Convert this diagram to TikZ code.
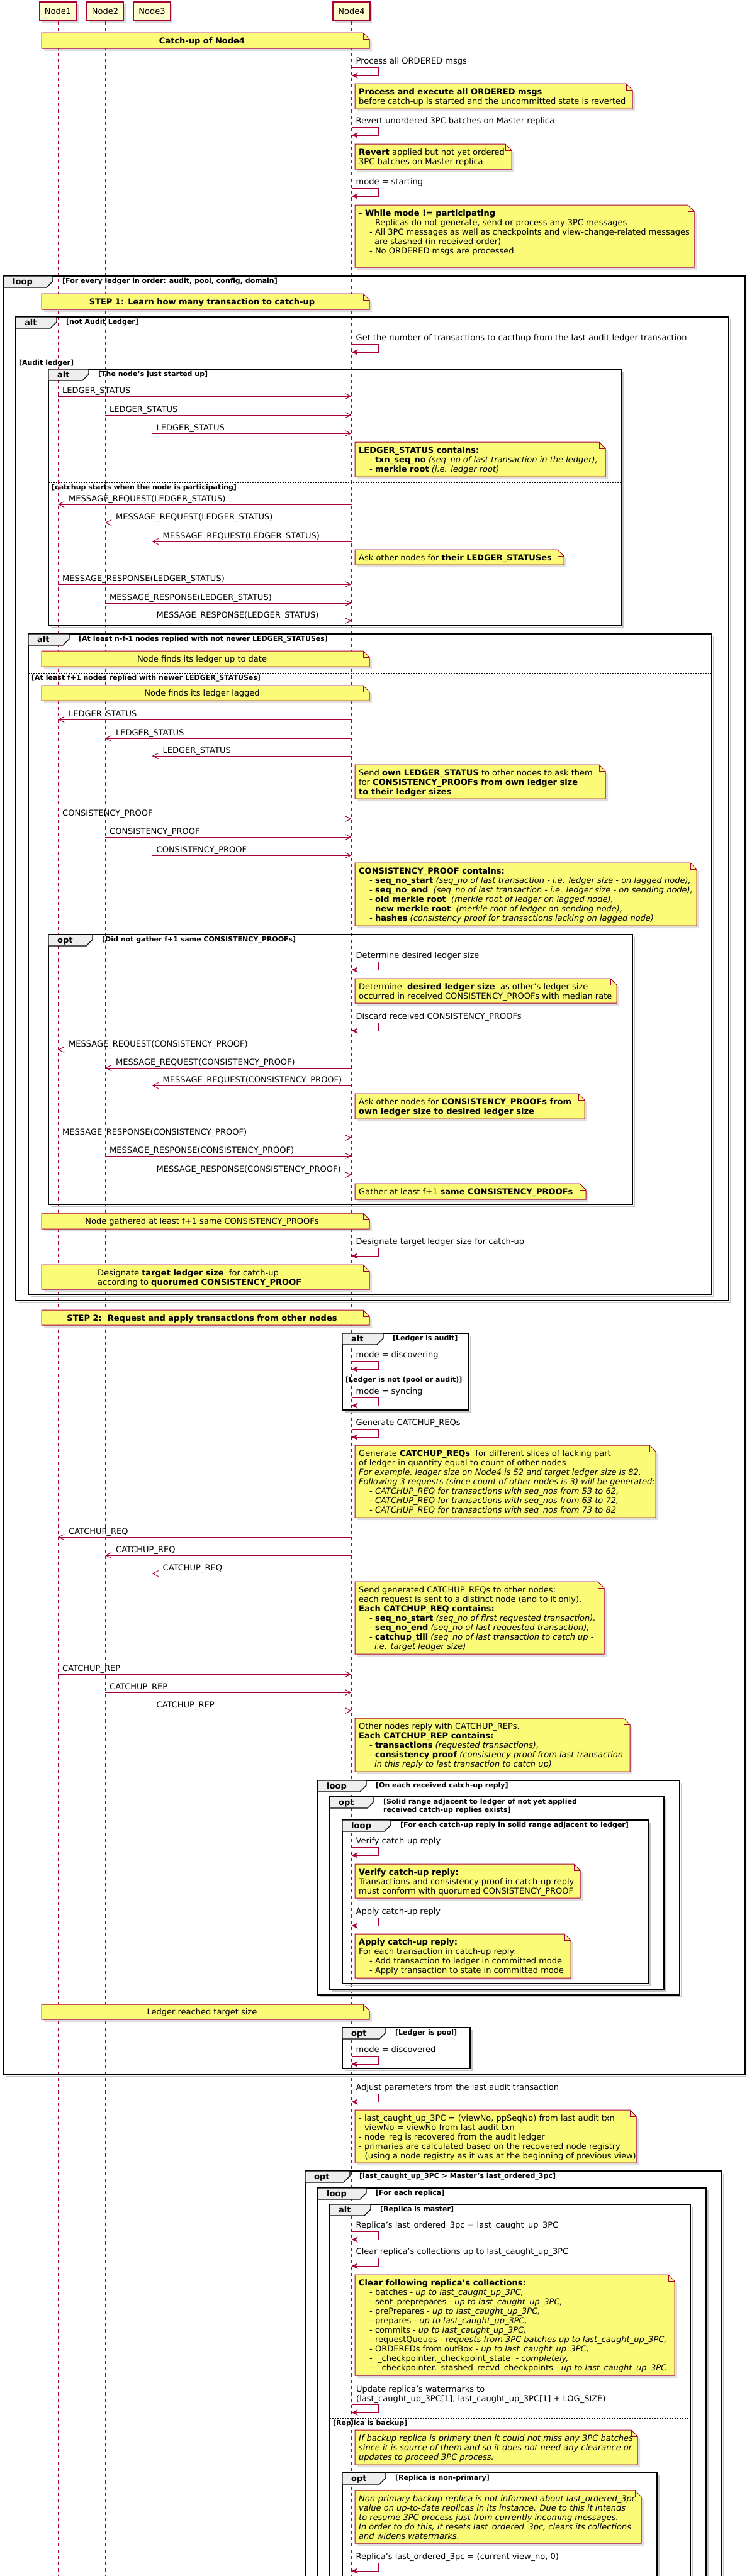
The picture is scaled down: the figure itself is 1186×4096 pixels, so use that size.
\documentclass[tikz,border=0pt]{standalone}
\usepackage{fontspec}
\setmainfont{DejaVu Sans}
\usetikzlibrary{arrows.meta, shadows}

\definecolor{umlred}{HTML}{A80036}
\definecolor{partyellow}{HTML}{FEFECE}
\definecolor{noteyellow}{HTML}{FBFB77}
\definecolor{tabgray}{HTML}{EEEEEE}

\newcommand{\selfmsg}[3]{%
  \node[txt, anchor=base west, xshift=7pt, yshift=5.5pt] (#1) at (n4 |- 0,#2) {#3};
  \draw[selfarr] (n4 |- 0,#2) -- ++(43,0) -- ++(0,13) -- ++(-43,0);}
\newcommand{\msgin}[4]{%
  \draw[msgarr] (#2 |- 0,#3) -- (n4 |- 0,#3);
  \node[txt, anchor=base west, xshift=7pt, yshift=4.5pt] (#1) at (#2 |- 0,#3) {#4};}
\newcommand{\msgout}[4]{%
  \draw[msgarr] (n4 |- 0,#3) -- (#2 |- 0,#3);
  \node[txt, anchor=base west, xshift=17pt, yshift=4.5pt] (#1) at (#2 |- 0,#3) {#4};}
\newcommand{\stickynote}[4]{%
  \filldraw[notebox] (#1,#2) -- (#3-10,#2) -- (#3,#2+10) -- (#3,#4) -- (#1,#4) -- cycle;
  \draw[umlred, line width=1pt] (#3-10,#2) -- (#3-10,#2+10) -- (#3,#2+10);}
\newcommand{\grp}[8]{%
  \draw[black!22, line width=2pt] (#2+4,#5+3) -- (#4+3,#5+3) -- (#4+3,#3+4);
  \draw[frm] (#2,#3) rectangle (#4,#5);
  \filldraw[frmtab] (#2,#3) -- (#2+#6,#3) -- (#2+#6,#3+8) -- (#2+#6-10,#3+18) -- (#2,#3+18) -- cycle;
  \node[frmkey] (#1k) at (#2+14,#3+13) {#7};
  \node[frmlbl] (#1l) at (#2+#6+15,#3+2.4) {\strut #8};}
\newcommand{\elsesplit}[5]{%
  \draw[elsesep] (#2,#4) -- (#3,#4);
  \node[frmlbl] (#1) at (#2+5,#4+1.9) {\strut #5};}

\begin{document}
\begin{tikzpicture}[x=1pt, y=-1pt,
  part/.style={draw=umlred, fill=partyellow, line width=1.2pt, minimum width=59pt,
               minimum height=30pt, inner sep=0pt, font=\fontsize{13}{15}\selectfont,
               drop shadow={shadow xshift=3pt, shadow yshift=-3pt, opacity=0.3}},
  life/.style={umlred, line width=0.8pt, dash pattern=on 5pt off 5pt},
  msgarr/.style={umlred, line width=1pt, -{Straight Barb[length=9pt, width=9pt]}},
  selfarr/.style={umlred, line width=1pt, -{Stealth[length=10pt, width=9pt, inset=3pt]}},
  txt/.style={font=\fontsize{13}{15}\selectfont, inner sep=0pt},
  ntxt/.style={txt, anchor=north west, align=left},
  ctxt/.style={txt, anchor=base},
  notebox/.style={draw=umlred, fill=noteyellow, line width=1pt,
                  drop shadow={shadow xshift=4pt, shadow yshift=-4pt, opacity=0.25}},
  frm/.style={black, line width=1.5pt},
  frmtab/.style={draw=black, fill=tabgray, line width=1.2pt},
  frmkey/.style={font=\fontsize{13}{15}\selectfont\bfseries, inner sep=0pt, anchor=base west},
  frmlbl/.style={font=\fontsize{11}{13}\selectfont\bfseries, inner sep=0pt, anchor=north west, align=left},
  elsesep/.style={black, line width=0.8pt, dash pattern=on 2pt off 2pt}
]
  \useasboundingbox (0,0) rectangle (1186,4096);
  \fill[white] (0,0) rectangle (1186,4096);
  \clip (0,0) rectangle (1186,4096);

  \node[part] (n1) at (92,18) {Node1};
  \node[part] (n2) at (167,18) {Node2};
  \node[part] (n3) at (241.5,18) {Node3};
  \node[part] (n4) at (558.5,18) {Node4};

  \draw[life] (n1.south) -- (n1 |- 0,4096);
  \draw[life] (n2.south) -- (n2 |- 0,4096);
  \draw[life] (n3.south) -- (n3 |- 0,4096);
  \draw[life] (n4.south) -- (n4 |- 0,4096);

  \grp{ledgers}{6}{439}{1184}{3299}{78}{loop}{[For every ledger in order: audit, pool, config, domain]}
  \grp{auditalt}{25}{504}{1158}{2068}{65}{alt}{[not Audit Ledger]}
  \elsesplit{auditelse}{25}{1158}{569}{[Audit ledger]}
  \grp{startalt}{77}{587}{987}{995}{64}{alt}{[The node's just started up]}
  \elsesplit{startelse}{77}{987}{767}{[catchup starts when the node is participating]}
  \grp{lagalt}{45}{1008}{1131}{2058}{65}{alt}{[At least n-f-1 nodes replied with not newer LEDGER\_STATUSes]}
  \elsesplit{lagelse}{45}{1131}{1070}{[At least f+1 nodes replied with newer LEDGER\_STATUSes]}
  \grp{proofopt}{77}{1486}{1005}{1915}{70}{opt}{[Did not gather f+1 same CONSISTENCY\_PROOFs]}
  \grp{modealt}{544}{2120}{745}{2242}{65}{alt}{[Ledger is audit]}
  \elsesplit{modeelse}{544}{745}{2186}{[Ledger is not (pool or audit)]}
  \grp{replyloop}{505}{2831}{1080}{3172}{77}{loop}{[On each received catch-up reply]}
  \grp{rangeopt}{524}{2857}{1055}{3163}{70}{opt}{[Solid range adjacent to ledger of not yet applied\\received catch-up replies exists]}
  \grp{eachloop}{544}{2894}{1030}{3154}{77}{loop}{[For each catch-up reply in solid range adjacent to ledger]}
  \grp{poolopt}{544}{3224}{747}{3289}{69}{opt}{[Ledger is pool]}
  \grp{masteropt}{485}{3452}{1147}{4110}{71}{opt}{[last\_caught\_up\_3PC > Master's last\_ordered\_3pc]}
  \grp{replicaloop}{505}{3479}{1122}{4110}{77}{loop}{[For each replica]}
  \grp{masteralt}{524}{3505}{1097}{4110}{65}{alt}{[Replica is master]}
  \elsesplit{backupelse}{524}{1097}{3845}{[Replica is backup]}
  \grp{primaryopt}{544}{3932}{1044}{4110}{69}{opt}{[Replica is non-primary]}

  \stickynote{66}{52}{587}{77}
  \node[ctxt] (title) at (321,69) {\textbf{Catch-up of Node4}};

  \selfmsg{ordered}{107}{Process all ORDERED msgs}
  \stickynote{564}{133}{1005}{173}
  \node[ntxt] (orderednote) at (570,140) {\strut\textbf{Process and execute all ORDERED msgs}\\
    before catch-up is started and the uncommitted state is reverted};

  \selfmsg{revert}{202}{Revert unordered 3PC batches on Master replica}
  \stickynote{564}{229}{813}{269}
  \node[ntxt] (revertnote) at (570,236) {\strut\textbf{Revert} applied but not yet ordered\\
    3PC batches on Master replica};

  \selfmsg{starting}{299}{mode = starting}
  \stickynote{564}{326}{1103}{425}
  \node[ntxt] (startnote) at (570,333) {\strut\textbf{- While mode != participating}\\
    \hspace*{17pt}- Replicas do not generate, send or process any 3PC messages\\
    \hspace*{17pt}- All 3PC messages as well as checkpoints and view-change-related messages\\
    \hspace*{25pt}are stashed (in received order)\\
    \hspace*{17pt}- No ORDERED msgs are processed};

  \stickynote{66}{467}{587}{492}
  \node[ctxt] (step1) at (321,484) {\textbf{STEP 1: Learn how many transaction to catch-up}};

  \selfmsg{auditnum}{547}{Get the number of transactions to cacthup from the last audit ledger transaction}

  \msgin{ls1}{n1}{630}{LEDGER\_STATUS}
  \msgin{ls2}{n2}{660}{LEDGER\_STATUS}
  \msgin{ls3}{n3}{689}{LEDGER\_STATUS}
  \stickynote{564}{703}{962}{758}
  \node[ntxt] (lsnote) at (570,710) {\strut\textbf{LEDGER\_STATUS contains:}\\
    \hspace*{17pt}- \textbf{txn\_seq\_no} \textit{(seq\_no of last transaction in the ledger),}\\
    \hspace*{17pt}- \textbf{merkle root} \textit{(i.e. ledger root)}};

  \msgout{mrq1}{n1}{802}{MESSAGE\_REQUEST(LEDGER\_STATUS)}
  \msgout{mrq2}{n2}{831}{MESSAGE\_REQUEST(LEDGER\_STATUS)}
  \msgout{mrq3}{n3}{861}{MESSAGE\_REQUEST(LEDGER\_STATUS)}
  \stickynote{564}{874}{896}{898}
  \node[ntxt] (asknote) at (570,881) {\strut Ask other nodes for \textbf{their LEDGER\_STATUSes}};
  \msgin{mrs1}{n1}{929}{MESSAGE\_RESPONSE(LEDGER\_STATUS)}
  \msgin{mrs2}{n2}{959}{MESSAGE\_RESPONSE(LEDGER\_STATUS)}
  \msgin{mrs3}{n3}{987}{MESSAGE\_RESPONSE(LEDGER\_STATUS)}

  \stickynote{66}{1035}{587}{1060}
  \node[ctxt] (uptodate) at (321,1052) {Node finds its ledger up to date};
  \stickynote{66}{1090}{587}{1114}
  \node[ctxt] (lagged) at (321,1106.5) {Node finds its ledger lagged};

  \msgout{lso1}{n1}{1144}{LEDGER\_STATUS}
  \msgout{lso2}{n2}{1174}{LEDGER\_STATUS}
  \msgout{lso3}{n3}{1202}{LEDGER\_STATUS}
  \stickynote{564}{1216}{962}{1270}
  \node[ntxt] (sendnote) at (570,1223) {\strut Send \textbf{own LEDGER\_STATUS} to other nodes to ask them\\
    for \textbf{CONSISTENCY\_PROOFs from own ledger size}\\
    \textbf{to their ledger sizes}};

  \msgin{cp1}{n1}{1302}{CONSISTENCY\_PROOF}
  \msgin{cp2}{n2}{1331}{CONSISTENCY\_PROOF}
  \msgin{cp3}{n3}{1360}{CONSISTENCY\_PROOF}
  \stickynote{564}{1372}{1107}{1472}
  \node[ntxt] (cpnote) at (570,1379) {\strut\textbf{CONSISTENCY\_PROOF contains:}\\
    \hspace*{17pt}- \textbf{seq\_no\_start} \textit{(seq\_no of last transaction - i.e. ledger size - on lagged node),}\\
    \hspace*{17pt}- \textbf{seq\_no\_end}\ \ \textit{(seq\_no of last transaction - i.e. ledger size - on sending node),}\\
    \hspace*{17pt}- \textbf{old merkle root}\ \ \textit{(merkle root of ledger on lagged node),}\\
    \hspace*{17pt}- \textbf{new merkle root}\ \ \textit{(merkle root of ledger on sending node),}\\
    \hspace*{17pt}- \textbf{hashes} \textit{(consistency proof for transactions lacking on lagged node)}};

  \selfmsg{desired}{1529}{Determine desired ledger size}
  \stickynote{564}{1556}{980}{1595}
  \node[ntxt] (desirednote) at (570,1563) {\strut Determine\ \ \textbf{desired ledger size}\ \ as other's ledger size\\
    occurred in received CONSISTENCY\_PROOFs with median rate};
  \selfmsg{discard}{1626}{Discard received CONSISTENCY\_PROOFs}
  \msgout{mcq1}{n1}{1669}{MESSAGE\_REQUEST(CONSISTENCY\_PROOF)}
  \msgout{mcq2}{n2}{1698}{MESSAGE\_REQUEST(CONSISTENCY\_PROOF)}
  \msgout{mcq3}{n3}{1726}{MESSAGE\_REQUEST(CONSISTENCY\_PROOF)}
  \stickynote{564}{1739}{929}{1779}
  \node[ntxt] (askcpnote) at (570,1746) {\strut Ask other nodes for \textbf{CONSISTENCY\_PROOFs from}\\
    \textbf{own ledger size to desired ledger size}};
  \msgin{mcs1}{n1}{1809}{MESSAGE\_RESPONSE(CONSISTENCY\_PROOF)}
  \msgin{mcs2}{n2}{1838}{MESSAGE\_RESPONSE(CONSISTENCY\_PROOF)}
  \msgin{mcs3}{n3}{1868}{MESSAGE\_RESPONSE(CONSISTENCY\_PROOF)}
  \stickynote{564}{1882}{931}{1907}
  \node[ntxt] (gathernote) at (570,1889) {\strut Gather at least f+1 \textbf{same CONSISTENCY\_PROOFs}};

  \stickynote{66}{1929}{587}{1954}
  \node[ctxt] (gathered) at (321,1946) {Node gathered at least f+1 same CONSISTENCY\_PROOFs};
  \selfmsg{designate}{1984}{Designate target ledger size for catch-up}
  \stickynote{66}{2011}{587}{2050}
  \node[ntxt] (targetnote) at (155,2018) {\strut Designate \textbf{target ledger size}\ \ for catch-up\\
    according to \textbf{quorumed CONSISTENCY\_PROOF}};

  \stickynote{66}{2083}{587}{2107}
  \node[ctxt] (step2) at (321,2100) {\textbf{STEP 2:\ \ Request and apply transactions from other nodes}};

  \selfmsg{discovering}{2164}{mode = discovering}
  \selfmsg{syncing}{2222}{mode = syncing}
  \selfmsg{genreq}{2272}{Generate CATCHUP\_REQs}
  \stickynote{564}{2298}{1042}{2413}
  \node[ntxt] (genreqnote) at (570,2305) {\strut Generate \textbf{CATCHUP\_REQs}\ \ for different slices of lacking part\\
    of ledger in quantity equal to count of other nodes\\
    \textit{For example, ledger size on Node4 is 52 and target ledger size is 82.}\\
    \textit{Following 3 requests (since count of other nodes is 3) will be generated:}\\
    \hspace*{17pt}\textit{- CATCHUP\_REQ for transactions with seq\_nos from 53 to 62,}\\
    \hspace*{17pt}\textit{- CATCHUP\_REQ for transactions with seq\_nos from 63 to 72,}\\
    \hspace*{17pt}\textit{- CATCHUP\_REQ for transactions with seq\_nos from 73 to 82}};

  \msgout{req1}{n1}{2444}{CATCHUP\_REQ}
  \msgout{req2}{n2}{2473}{CATCHUP\_REQ}
  \msgout{req3}{n3}{2502}{CATCHUP\_REQ}
  \stickynote{564}{2515}{960}{2630}
  \node[ntxt] (reqnote) at (570,2522) {\strut Send generated CATCHUP\_REQs to other nodes:\\
    each request is sent to a distinct node (and to it only).\\
    \textbf{Each CATCHUP\_REQ contains:}\\
    \hspace*{17pt}- \textbf{seq\_no\_start} \textit{(seq\_no of first requested transaction),}\\
    \hspace*{17pt}- \textbf{seq\_no\_end} \textit{(seq\_no of last requested transaction),}\\
    \hspace*{17pt}- \textbf{catchup\_till} \textit{(seq\_no of last transaction to catch up -}\\
    \hspace*{25pt}\textit{i.e. target ledger size)}};

  \msgin{rep1}{n1}{2662}{CATCHUP\_REP}
  \msgin{rep2}{n2}{2691}{CATCHUP\_REP}
  \msgin{rep3}{n3}{2720}{CATCHUP\_REP}
  \stickynote{564}{2732}{1001}{2817}
  \node[ntxt] (repnote) at (570,2739) {\strut Other nodes reply with CATCHUP\_REPs.\\
    \textbf{Each CATCHUP\_REP contains:}\\
    \hspace*{17pt}- \textbf{transactions} \textit{(requested transactions),}\\
    \hspace*{17pt}- \textbf{consistency proof} \textit{(consistency proof from last transaction}\\
    \hspace*{25pt}\textit{in this reply to last transaction to catch up)}};

  \selfmsg{verify}{2937}{Verify catch-up reply}
  \stickynote{564}{2964}{922}{3018}
  \node[ntxt] (verifynote) at (570,2971) {\strut\textbf{Verify catch-up reply:}\\
    Transactions and consistency proof in catch-up reply\\
    must conform with quorumed CONSISTENCY\_PROOF};
  \selfmsg{apply}{3049}{Apply catch-up reply}
  \stickynote{564}{3075}{907}{3145}
  \node[ntxt] (applynote) at (570,3082) {\strut\textbf{Apply catch-up reply:}\\
    For each transaction in catch-up reply:\\
    \hspace*{17pt}- Add transaction to ledger in committed mode\\
    \hspace*{17pt}- Apply transaction to state in committed mode};

  \stickynote{66}{3187}{587}{3211}
  \node[ctxt] (reached) at (321,3203.5) {Ledger reached target size};
  \selfmsg{discovered}{3269}{mode = discovered}

  \selfmsg{adjust}{3329}{Adjust parameters from the last audit transaction}
  \stickynote{564}{3355}{1011}{3439}
  \node[ntxt] (adjustnote) at (570,3362) {\strut - last\_caught\_up\_3PC = (viewNo, ppSeqNo) from last audit txn\\
    - viewNo = viewNo from last audit txn\\
    - node\_reg is recovered from the audit ledger\\
    - primaries are calculated based on the recovered node registry\\
    \hspace*{9.5pt}(using a node registry as it was at the beginning of previous view)};

  \selfmsg{lastordered}{3548}{Replica's last\_ordered\_3pc = last\_caught\_up\_3PC}
  \selfmsg{clear}{3590}{Clear replica's collections up to last\_caught\_up\_3PC}
  \stickynote{564}{3617}{1072}{3777}
  \node[ntxt] (clearnote) at (570,3624) {\strut\textbf{Clear following replica's collections:}\\
    \hspace*{17pt}- batches - \textit{up to last\_caught\_up\_3PC,}\\
    \hspace*{17pt}- sent\_preprepares - \textit{up to last\_caught\_up\_3PC,}\\
    \hspace*{17pt}- prePrepares - \textit{up to last\_caught\_up\_3PC,}\\
    \hspace*{17pt}- prepares - \textit{up to last\_caught\_up\_3PC,}\\
    \hspace*{17pt}- commits - \textit{up to last\_caught\_up\_3PC,}\\
    \hspace*{17pt}- requestQueues - \textit{requests from 3PC batches up to last\_caught\_up\_3PC,}\\
    \hspace*{17pt}- ORDEREDs from outBox - \textit{up to last\_caught\_up\_3PC,}\\
    \hspace*{17pt}-\ \ \_checkpointer.\_checkpoint\_state\ \ - \textit{completely,}\\
    \hspace*{17pt}-\ \ \_checkpointer.\_stashed\_recvd\_checkpoints - \textit{up to last\_caught\_up\_3PC}};

  \node[ntxt] (watermarks) at (566,3793) {\strut Update replica's watermarks to\\
    (last\_caught\_up\_3PC[1], last\_caught\_up\_3PC[1] + LOG\_SIZE)};
  \draw[selfarr] (n4 |- 0,3823) -- ++(43,0) -- ++(0,13) -- ++(-43,0);

  \stickynote{564}{3864}{1013}{3919}
  \node[ntxt] (backupnote) at (570,3871) {\strut\textit{If backup replica is primary then it could not miss any 3PC batches}\\
    \textit{since it is source of them and so it does not need any clearance or}\\
    \textit{updates to proceed 3PC process.}};
  \stickynote{564}{3960}{1019}{4044}
  \node[ntxt] (nonprimnote) at (570,3967) {\strut\textit{Non-primary backup replica is not informed about last\_ordered\_3pc}\\
    \textit{value on up-to-date replicas in its instance. Due to this it intends}\\
    \textit{to resume 3PC process just from currently incoming messages.}\\
    \textit{In order to do this, it resets last\_ordered\_3pc, clears its collections}\\
    \textit{and widens watermarks.}};
  \selfmsg{resetorder}{4075}{Replica's last\_ordered\_3pc = (current view\_no, 0)}
\end{tikzpicture}
\end{document}
